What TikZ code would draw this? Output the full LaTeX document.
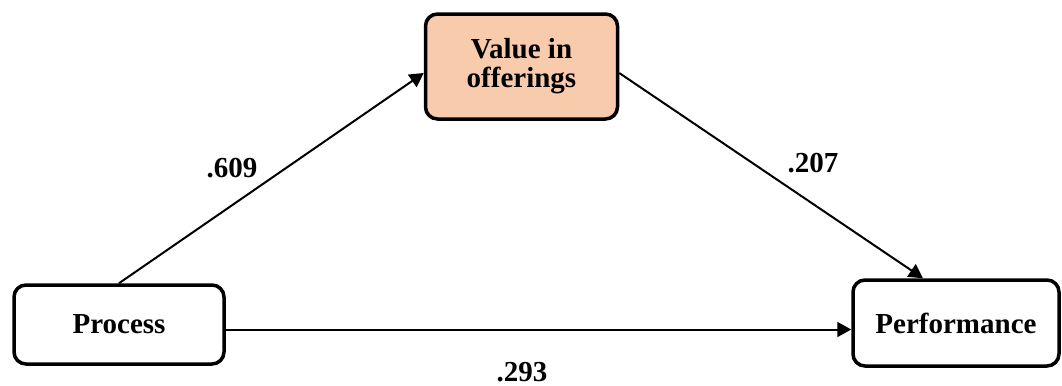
\documentclass[tikz,border=0pt]{standalone}
\usepackage{fontspec}
\setmainfont{Liberation Serif}
\usetikzlibrary{arrows.meta}
\definecolor{peach}{HTML}{F8CBAD}
\begin{document}
\begin{tikzpicture}[x=0.5pt,y=-0.5pt,
  box/.style={draw=black, line width=1.75pt, rounded corners=6pt, align=center,
    font=\fontsize{14.5}{14.5}\selectfont\bfseries, inner sep=0pt},
  conn/.style={line width=1pt, -{Triangle[length=7pt,width=7.5pt]}},
  lbl/.style={font=\fontsize{14.5}{14.5}\selectfont\bfseries, inner sep=0pt}]
\useasboundingbox (0,0) rectangle (1062,386);
\node[box, minimum width=105pt, minimum height=39.5pt] (proc) at (119,324.5) {Process};
\node[box, fill=peach, minimum width=96pt, minimum height=52.5pt] (val) at (521.5,66.5) {Value in\\offerings};
\node[box, minimum width=103pt, minimum height=43pt] (perf) at (956,323) {Performance};
\draw[conn] (proc.north) -- ([yshift=-3.25pt]val.west);
\draw[conn] ([yshift=-3.25pt]val.east) -- ([xshift=-16.5pt]perf.north);
\draw[conn] ([yshift=-2.5pt]proc.east) -- ([yshift=-2.5pt]proc.east -| perf.west);
\node[lbl] (l1) at (232,168) {.609};
\node[lbl] (l2) at (813,163) {.207};
\node[lbl] (l3) at (522,372) {.293};
\end{tikzpicture}
\end{document}
